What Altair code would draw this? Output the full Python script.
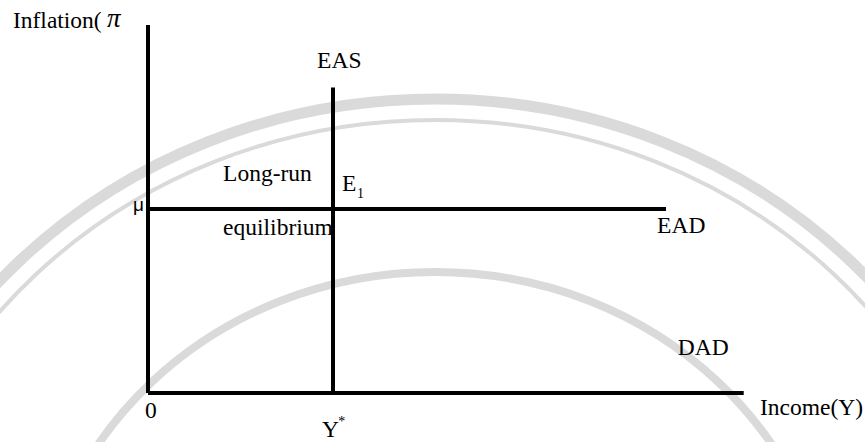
import altair as alt
import pandas as pd

# ---- model quantities (income on x, inflation on y) ----
Y_STAR = 50        # potential output Y*
MU = 50            # long-run inflation target mu
X_AXIS_END = 161
Y_AXIS_TOP = 100
EAS_TOP = 83
EAD_END = 140

line_name = ["inflation axis", "income axis", "EAS", "EAD"]
line_x = [0, 0, Y_STAR, 0]
line_x2 = [0, X_AXIS_END, Y_STAR, EAD_END]
line_y = [0, 0, 0, MU]
line_y2 = [Y_AXIS_TOP, 0, EAS_TOP, MU]

# ---- annotations ----
label_text = ["Inflation(", "EAS", "Long-run", "E", "equilibrium",
              "EAD", "DAD", "0", "Y", "Income(Y)"]
label_x = [-36.5, 45.7, 20.3, 52.4, 20.3, 137.6, 143.2, -0.8, 47.0, 165.4]
label_y = [99.2, 88.3, 57.6, 54.9, 42.9, 43.5, 10.3, -6.8, -12.0, -6.0]

small_text = ["1", "*"]
small_x = [56.5, 51.4]
small_y = [53.0, -9.0]

lines = pd.DataFrame({"name": line_name, "x": line_x, "x2": line_x2,
                      "y": line_y, "y2": line_y2})
labels = pd.DataFrame({"text": label_text, "x": label_x, "y": label_y})
smalls = pd.DataFrame({"text": small_text, "x": small_x, "y": small_y})
pi_label = pd.DataFrame({"text": ["\u03c0"], "x": [-11.1], "y": [99.5]})
mu_label = pd.DataFrame({"text": ["\u03bc"], "x": [-1.1], "y": [49.5]})

xs = alt.Scale(domain=[0, 190], nice=False, zero=False)
ys = alt.Scale(domain=[0, 100], nice=False, zero=False)
X = alt.X("x:Q", scale=xs, axis=None)
Y = alt.Y("y:Q", scale=ys, axis=None)

SERIF = "Liberation Serif"
GREY = "#dadada"


def ellipse(a, b):
    return (f"M {-a} 0 A {a} {b} 0 1 1 {a} 0 "
            f"A {a} {b} 0 1 1 {-a} 0 Z")


one = alt.Data(values=[{"k": 0}])


def ring(a, b, width):
    return alt.Chart(one).mark_point(
        shape=ellipse(a, b), size=4, filled=False, color=GREY,
        strokeWidth=width, opacity=1
    ).encode(x=alt.value(287), y=alt.value(619))


seal = ring(584, 545, 11) + ring(563, 524, 4) + ring(399, 372, 8)

rules = alt.Chart(lines).mark_rule(color="black", strokeWidth=4).encode(
    x=X, x2="x2:Q", y=Y, y2="y2:Q")

text = alt.Chart(labels).mark_text(
    font=SERIF, fontSize=23.5, align="left", baseline="alphabetic",
    color="black").encode(x=X, y=Y, text="text:N")

small = alt.Chart(smalls).mark_text(
    font=SERIF, fontSize=14, align="left", baseline="alphabetic",
    color="black").encode(x=X, y=Y, text="text:N")

pi = alt.Chart(pi_label).mark_text(
    font=SERIF, fontSize=27, fontStyle="italic", align="left",
    baseline="alphabetic", color="black").encode(x=X, y=Y, text="text:N")

mu = alt.Chart(mu_label).mark_text(
    font="Liberation Sans", fontSize=19, align="right",
    baseline="alphabetic", color="black").encode(x=X, y=Y, text="text:N")

chart = alt.layer(seal, rules, text, small, pi, mu).properties(
    width=703, height=368,
    padding={"left": 148, "top": 25, "right": 14, "bottom": 49},
    autosize=alt.AutoSizeParams(type="none"),
    background="white",
).configure_view(stroke=None)

chart.save("out.html", embed_options={"renderer": "svg", "actions": False})
